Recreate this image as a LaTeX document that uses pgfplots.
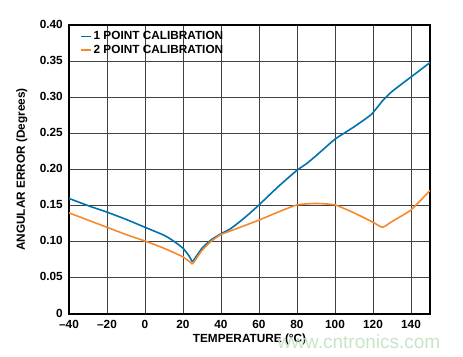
\documentclass[border=0pt]{standalone}
\usepackage{fontspec}
\setmainfont{Liberation Sans}
\usepackage{pgfplots}
\pgfplotsset{compat=1.18}
\definecolor{cblue}{RGB}{0,114,176}
\definecolor{corange}{RGB}{247,137,45}
\definecolor{wm}{RGB}{200,228,200}
\newcommand{\lbl}{\fontsize{11.8}{14}\selectfont\bfseries}
\begin{document}
\begin{tikzpicture}
\useasboundingbox (-69pt,-42pt) rectangle (394pt,314pt);
\begin{axis}[
  at={(0pt,0pt)}, anchor=south west,
  scale only axis, width=361pt, height=289pt,
  xmin=-40, xmax=150, ymin=0, ymax=0.4,
  xtick={-40,-20,0,20,40,60,80,100,120,140},
  xticklabels={–40,–20,0,20,40,60,80,100,120,140},
  ytick={0,0.05,0.10,0.15,0.20,0.25,0.30,0.35,0.40},
  yticklabels={0,0.05,0.10,0.15,0.20,0.25,0.30,0.35,0.40},
  grid=major,
  major grid style={line width=0.8pt, color=black!75},
  axis line style={line width=1.1pt},
  major tick length=0pt,
  tick label style={font=\lbl, inner sep=1pt},
  xticklabel style={yshift=-5pt},
  yticklabel style={xshift=-5pt, yshift=1pt},
  xlabel={TEMPERATURE (°C)},
  ylabel={ANGULAR ERROR (Degrees)},
  xlabel style={font=\lbl, at={(axis description cs:0.5,-0.1)}, anchor=base},
  ylabel style={font=\lbl, at={(axis description cs:-0.122,0.5)}, anchor=base},
  legend style={draw=none, fill=none, at={(axis description cs:0.03,0.985)}, anchor=north west, font=\lbl, inner sep=0pt, row sep=0pt},
  legend cell align=left,
  legend image code/.code={\draw[#1, line width=1.6pt] (0pt,0pt) -- (10pt,0pt);},
]
\addplot[cblue, line width=1.6pt, smooth, tension=0.35] coordinates {
(-40,0.160) (-30,0.150) (-20,0.141) (-10,0.131) (0,0.120) (10,0.109) (15,0.101) (20,0.091) (23,0.081) (25,0.072)
};
\addlegendentry{1 POINT CALIBRATION}
\addplot[corange, line width=1.6pt, smooth, tension=0.3] coordinates {
(-40,0.140) (-30,0.130) (-20,0.120) (-10,0.110) (0,0.101) (10,0.091) (20,0.079) (25,0.069)
};
\addlegendentry{2 POINT CALIBRATION}
\addplot[cblue, line width=1.6pt, smooth, tension=0.3, forget plot] coordinates {
(25,0.072) (30,0.091) (35,0.103) (40,0.111) (45,0.118) (50,0.128) (55,0.139) (60,0.151) (70,0.176) (80,0.199) (85,0.208) (90,0.219) (100,0.242) (110,0.259) (119,0.276) (125,0.295) (130,0.308) (140,0.328) (150,0.348)
};
\addplot[corange, line width=1.6pt, smooth, tension=0.3, forget plot] coordinates {
(25,0.069) (30,0.088) (35,0.101) (40,0.110) (45,0.115) (50,0.120) (60,0.130) (70,0.141) (80,0.151) (90,0.153) (100,0.151) (110,0.140) (120,0.127) (125,0.120) (130,0.128) (140,0.144) (150,0.171)
};
\end{axis}
\node[wm, font=\fontsize{19}{22}\selectfont, anchor=center] at (290pt,-28pt) {www.cntronics.com};
\end{tikzpicture}
\end{document}
